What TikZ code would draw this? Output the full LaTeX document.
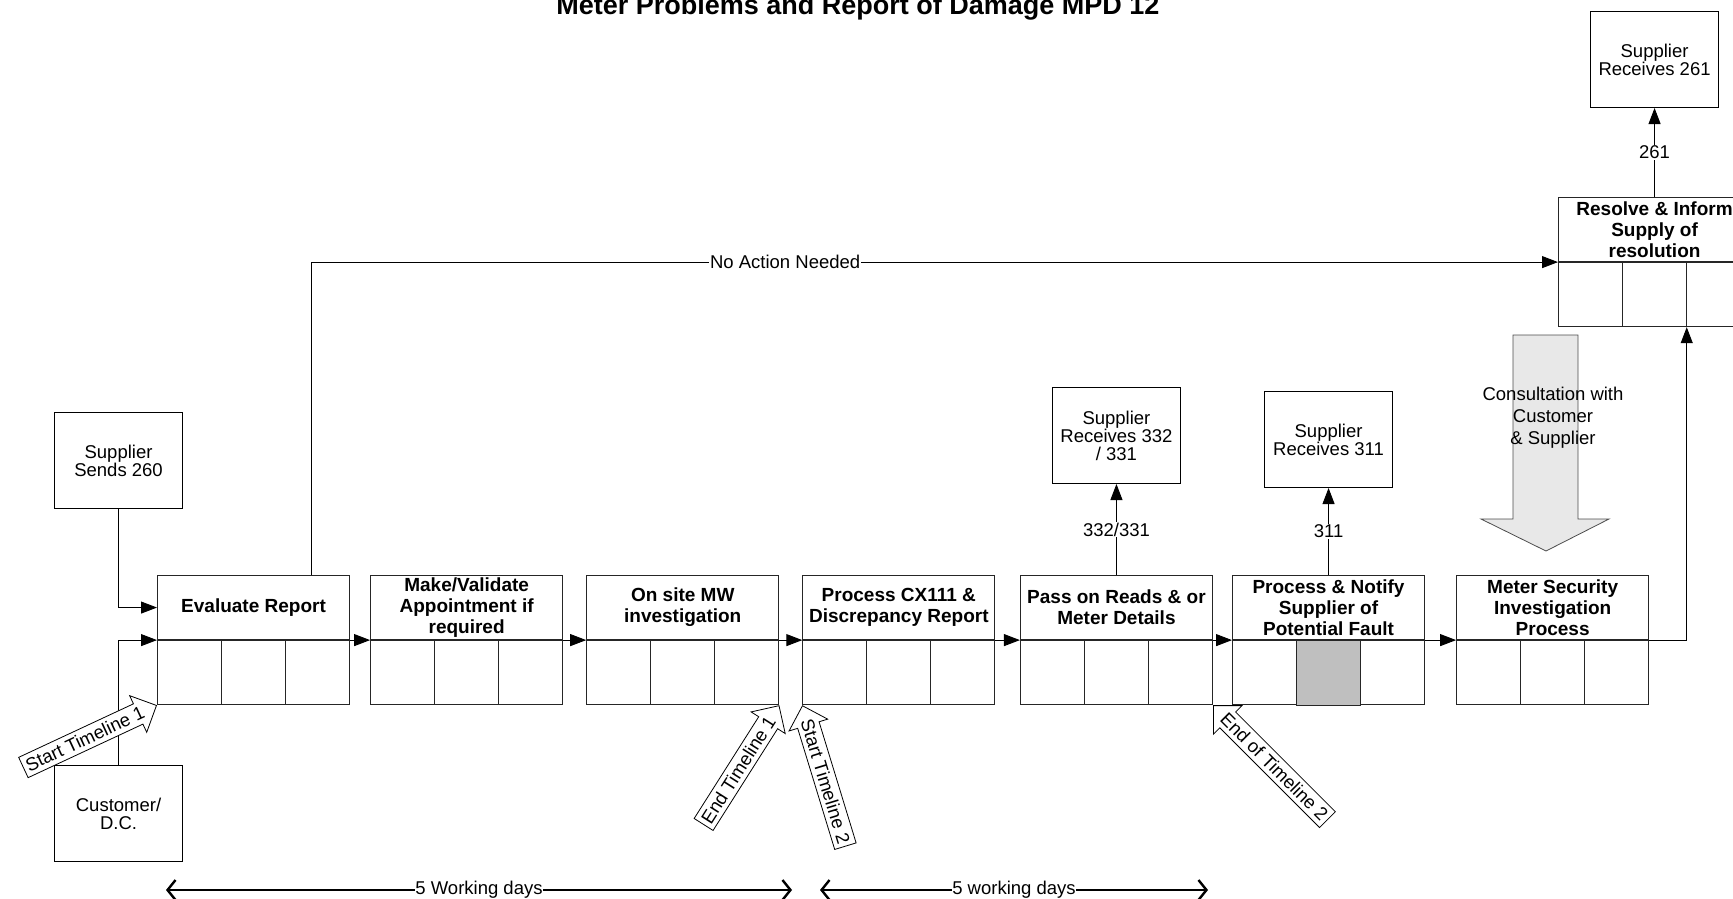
\documentclass[tikz,border=0pt]{standalone}
\usepackage{fontspec}
\setmainfont{Liberation Sans}
\usetikzlibrary{positioning,arrows.meta,calc,shapes.arrows}

\begin{document}
\begin{tikzpicture}[
  x=1pt, y=1pt,
  font=\fontsize{18.5}{18}\selectfont,
  procbox/.style={rectangle,draw=black!85,line width=1.1pt,minimum width=192pt,minimum height=64pt,
               inner sep=0pt,align=center,font=\bfseries\fontsize{19}{21}\selectfont},
  cellrow/.style={rectangle,draw=black!85,line width=1.1pt,minimum width=192pt,minimum height=64pt,inner sep=0pt,
               path picture={
                 \draw[black!85,line width=1.1pt]
                   ($(path picture bounding box.north west)!1/3!(path picture bounding box.north east)$) --
                   ($(path picture bounding box.south west)!1/3!(path picture bounding box.south east)$)
                   ($(path picture bounding box.north west)!2/3!(path picture bounding box.north east)$) --
                   ($(path picture bounding box.south west)!2/3!(path picture bounding box.south east)$);}},
  extbox/.style={rectangle,draw,line width=1.1pt,minimum width=128pt,minimum height=96pt,align=center},
  tlarrow/.style={single arrow,draw,line width=0.8pt,fill=white,inner xsep=3pt,inner ysep=4pt,
                  single arrow head extend=9pt,anchor=tip},
  arr/.style={-{Triangle[length=16pt,width=12pt]},line width=0.9pt},
  dayspan/.style={{Straight Barb[length=8pt,width=20pt]}-{Straight Barb[length=8pt,width=20pt]},line width=2.4pt},
  lbl/.style={fill=white,inner sep=1pt},
]
\useasboundingbox (0,0) rectangle (1733,-899);
\clip (0,0) rectangle (1733,-899);

\node[font=\bfseries\fontsize{27}{30}\selectfont,anchor=base] (title) at (858,-15)
  {Meter Problems and Report of Damage MPD 12};

% ===== process row =====
\node[procbox,anchor=north west] (eval) at (157,-575) {Evaluate Report};
\node[cellrow,below=0pt of eval] (evalc) {};
\node[procbox,right=20pt of eval] (appt) {Make/Validate\\Appointment if\\required};
\node[cellrow,below=0pt of appt] (apptc) {};
\node[procbox,right=23pt of appt] (site) {On site MW\\investigation};
\node[cellrow,below=0pt of site] (sitec) {};
\node[procbox,right=23pt of site] (cx) {Process CX111 \&\\Discrepancy Report};
\node[cellrow,below=0pt of cx] (cxc) {};
\node[procbox,right=24.5pt of cx] (reads) {Pass on Reads \& or\\Meter Details};
\node[cellrow,below=0pt of reads] (readsc) {};
\node[procbox,right=19pt of reads] (notify) {Process \& Notify\\Supplier of\\Potential Fault};
\node[cellrow,below=0pt of notify] (notifyc) {};
\draw[draw=black!85,fill=black!25,line width=1.1pt]
  ($(notifyc.south west)!1/3!(notifyc.south east)$) rectangle ($(notifyc.north west)!2/3!(notifyc.north east)$);
\node[procbox,right=31pt of notify] (msec) {Meter Security\\Investigation\\Process};
\node[cellrow,below=0pt of msec] (msecc) {};
\node[procbox,anchor=north west] (resolve) at (1558,-197) {Resolve \& Inform\\Supply of\\resolution};
\node[cellrow,below=0pt of resolve] (resolvec) {};

% ===== parties =====
\node[extbox,anchor=north west] (sup260) at (54,-412) {Supplier\\Sends 260};
\node[extbox,anchor=north west] (cust) at (54,-765) {Customer/\\D.C.};
\node[extbox,above=91pt of reads] (sup332) {Supplier\\Receives 332\\/ 331};
\node[extbox,above=87pt of notify] (sup311) {Supplier\\Receives 311};
\node[extbox,above=89pt of resolve] (sup261) {Supplier\\Receives 261};

% ===== flow =====
\draw[arr] (sup260.south) |- (eval.west);
\draw[arr] (cust.north) |- (eval.south west);
\draw[arr] (eval.south east) -- (appt.south west);
\draw[arr] (appt.south east) -- (site.south west);
\draw[arr] (site.south east) -- (cx.south west);
\draw[arr] (cx.south east) -- (reads.south west);
\draw[arr] (reads.south east) -- (notify.south west);
\draw[arr] (notify.south east) -- (msec.south west);
\draw[arr] (msec.south east) -| ($(resolvec.south west)!2/3!(resolvec.south east)$);
\draw[arr] ($(eval.north west)!0.8!(eval.north east)$) |- node[lbl,pos=0.69]{No Action Needed} (resolve.south west);
\draw[arr] (reads) -- node[lbl]{332/331} (sup332);
\draw[arr] (notify) -- node[lbl]{311} (sup311);
\draw[arr] (resolve) -- node[lbl]{261} (sup261);

% consultation
\draw[draw=black!70,fill=black!9,line width=0.8pt] (1513,-335) -- (1578,-335) -- (1578,-519) -- (1609,-519)
  -- (1546,-551) -- (1481,-519) -- (1513,-519) -- cycle;
\node[align=center,font=\fontsize{18.5}{22}\selectfont] (consult) at (1553,-418) {Consultation with\\Customer\\\& Supplier};

% ===== timelines =====
\node[tlarrow,rotate=25] (tl1s) at (evalc.south west) {Start Timeline 1};
\node[tlarrow,rotate=57.6] (tl1e) at (sitec.south east) {End Timeline 1};
\node[tlarrow,rotate=-73,shape border rotate=180] (tl2s) at (cxc.south west) {Start Timeline 2};
\node[tlarrow,rotate=-45,shape border rotate=180] (tl2e) at (readsc.south east) {End of Timeline 2};

\coordinate (d1l) at (166,-890); \coordinate (d1r) at (792,-890);
\draw[dayspan] (d1l) -- node[lbl,inner sep=0pt]{5 Working days} (d1r);
\coordinate (d2l) at (820,-890); \coordinate (d2r) at (1208,-890);
\draw[dayspan] (d2l) -- node[lbl,inner sep=0pt]{5 working days} (d2r);
\end{tikzpicture}
\end{document}
